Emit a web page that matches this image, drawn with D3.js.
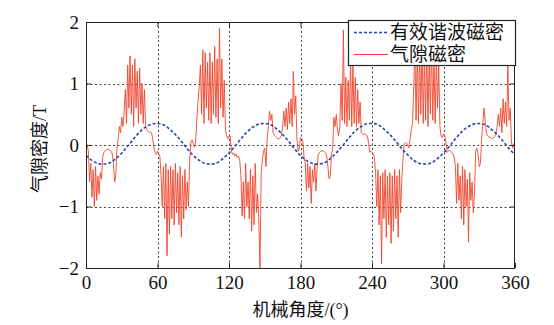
<!DOCTYPE html>
<html><head><meta charset="utf-8">
<script src="https://cdn.jsdelivr.net/npm/d3@7"></script>
<style>body{margin:0;background:#fff;} svg{display:block}</style>
</head><body><svg id="c" width="554" height="325"></svg>
<script>
const xTicks = [0, 60, 120, 180, 240, 300, 360];
const yTicks = [-2, -1, 0, 1, 2];
const legendLabels = ["有效谐波磁密", "气隙磁密"];
const xLabel = "机械角度/(°)";
const yLabel = "气隙密度/T";

// effective harmonic flux density, sampled every 5 degrees (0..360)
const blueStep = 5;
const blueValues = [
  -0.17,-0.25,-0.30,-0.31,-0.29,-0.22,-0.13,-0.02,0.10,0.21,0.29,0.34,0.35,0.33,0.26,0.17,0.06,-0.06,
  -0.17,-0.25,-0.30,-0.31,-0.29,-0.22,-0.13,-0.02,0.10,0.21,0.29,0.34,0.35,0.33,0.26,0.17,0.06,-0.06,
  -0.17,-0.25,-0.30,-0.31,-0.29,-0.22,-0.13,-0.02,0.10,0.21,0.29,0.34,0.35,0.33,0.26,0.17,0.06,-0.06,
  -0.16,-0.25,-0.30,-0.31,-0.29,-0.22,-0.13,-0.02,0.10,0.21,0.29,0.34,0.35,0.33,0.26,0.17,0.06,-0.06,
  -0.16
];

// air-gap flux density, sampled every 1 degree (0..360)
const redStep = 1;
const redValues = [
  0.05, 0.0, -0.1, -0.6, -0.3, -0.85, -0.4, -1.0, -0.35, -0.9,
  -0.5, -0.8, -0.45, -0.55, -0.2, -0.12, -0.1, -0.08, -0.07, -0.07,
  -0.08, -0.1, -0.14, -0.3, -0.6, -0.5, -0.05, 0.1, 0.3, 0.2,
  0.45, 0.3, 0.55, 0.9, 0.35, 1.3, 0.6, 1.45, 0.5, 1.3,
  0.3, 1.4, 0.6, 1.2, 0.35, 1.25, 0.5, 1.0, 0.35, 0.9,
  0.3, 0.25, 0.22, 0.2, 0.22, 0.2, 0.1, -0.05, -0.12, -0.15,
  -0.1, -0.15, -0.18, -0.5, -1.0, -0.35, -1.2, -0.3, -1.8, -0.4,
  -1.45, -0.35, -1.2, -0.4, -1.3, -0.3, -1.1, -0.45, -1.3, -0.35,
  -1.5, -0.5, -1.2, -0.4, -1.05, -0.6, -1.0, -0.25, 0.05, 0.08,
  0.03, -0.04, 0.05, 0.4, 0.7, 0.95, 1.3, 0.5, 1.55, 0.35,
  1.5, 0.6, 1.35, 0.4, 1.5, 0.35, 1.35, 0.5, 1.6, 0.45,
  1.4, 0.35, 1.9, 0.6, 1.4, 0.45, 1.05, 0.25, 0.15, 0.1,
  0.15, 0.15, -0.1, -0.15, -0.13, -0.18, -0.15, -0.2, -0.18, -0.25,
  -0.5, -1.15, -0.6, -1.2, -0.3, -1.0, -0.6, -1.2, -0.4, -1.4,
  -0.5, -1.3, -0.3, -1.1, -0.8, -1.2, -2.0, -0.45, -0.25, -0.1,
  -0.05, -0.35, 0.1, 0.3, 0.55, 0.4, 0.5, 0.2, 0.16, 0.14,
  0.12, 0.1, 0.1, 0.12, 0.15, 0.3, 0.55, 0.3, 0.6, 0.25,
  0.7, 0.35, 0.75, 0.3, 1.2, 0.5, 0.8, 0.1, -0.1, -0.05,
  0.12, 0.1, 0.05, -0.2, -0.3, -0.75, -0.3, -0.7, -0.35, -0.95,
  -0.4, -0.6, -0.3, -0.75, -0.35, -0.15, -0.12, -0.1, -0.09, -0.1,
  -0.11, -0.13, -0.18, -0.35, -0.55, -0.5, -0.15, -0.05, 0.45, 0.3,
  0.5, 0.25, 0.15, 0.3, 1.0, 0.4, 1.87, 0.35, 1.1, 0.3,
  1.05, 0.4, 1.4, 0.3, 1.35, 0.35, 1.1, 0.3, 0.9, 0.35,
  0.7, 0.2, 0.18, 0.17, 0.18, 0.17, 0.15, 0.05, -0.12, -0.1,
  -0.12, -0.15, -0.2, -0.45, -1.0, -0.4, -1.3, -0.5, -1.93, -0.45,
  -1.2, -0.4, -1.5, -0.5, -1.3, -0.45, -1.6, -0.5, -1.4, -0.4,
  -1.2, -0.5, -1.5, -0.4, -1.1, -0.55, -0.25, 0.02, 0.04, 0.03,
  0.0, -0.05, 0.1, 0.25, 0.35, 0.95, 1.5, 0.4, 1.6, 0.35,
  1.5, 0.5, 1.7, 0.35, 1.45, 0.4, 1.6, 0.3, 1.5, 0.5,
  1.7, 0.4, 1.4, 0.35, 1.5, 0.6, 1.3, 0.3, 0.15, 0.12,
  0.18, 0.15, 0.05, -0.12, -0.1, -0.08, -0.1, -0.12, -0.15, -0.2,
  -0.35, -0.95, -0.3, -0.9, -0.5, -1.2, -0.35, -1.3, -0.4, -1.0,
  -0.55, -1.58, -0.45, -0.9, -0.6, -1.1, -0.8, -0.1, -0.05, -0.15,
  -0.35, -0.3, 0.1, 0.35, 0.6, 0.4, 0.2, 0.15, 0.13, 0.12,
  0.12, 0.1, 0.12, 0.14, 0.18, 0.3, 0.5, 0.3, 0.6, 0.2,
  0.75, 0.35, 0.7, 0.3, 1.28, 0.4, 0.6, 0.05, -0.05, 0.02,
  0.0
];

const svg = d3.select("#c");
const L = 86, R = 515, T = 22, B = 268;
const x = d3.scaleLinear().domain([0, 360]).range([L, R]);
const y = d3.scaleLinear().domain([-2, 2]).range([B, T]);
const serif = "'Liberation Serif','Times New Roman',serif";
const cjk = "'Liberation Serif','Noto Sans CJK SC',serif";

svg.append("rect").attr("x", 0).attr("y", 0).attr("width", 554).attr("height", 325).attr("fill", "#fff");

// grid
const grid = svg.append("g").attr("stroke", "#444").attr("stroke-width", 1).attr("stroke-dasharray", "2,2.5");
grid.selectAll(".gx").data(xTicks.slice(1, -1)).join("line")
  .attr("x1", d => Math.round(x(d)) + 0.5).attr("x2", d => Math.round(x(d)) + 0.5)
  .attr("y1", T).attr("y2", B);
grid.selectAll(".gy").data(yTicks.slice(1, -1)).join("line")
  .attr("y1", d => Math.round(y(d)) + 0.5).attr("y2", d => Math.round(y(d)) + 0.5)
  .attr("x1", L).attr("x2", R);

// clip
svg.append("clipPath").attr("id", "clip").append("rect")
  .attr("x", L).attr("y", T).attr("width", R - L).attr("height", B - T);

const red = redValues.map((v, i) => [i * redStep, v]);
const blue = blueValues.map((v, i) => [i * blueStep, v]);

svg.append("path").datum(red)
  .attr("clip-path", "url(#clip)")
  .attr("fill", "none").attr("stroke", "#f0452c").attr("stroke-width", 0.9)
  .attr("d", d3.line().x(d => x(d[0])).y(d => y(d[1])));

svg.append("path").datum(blue)
  .attr("clip-path", "url(#clip)")
  .attr("fill", "none").attr("stroke", "#2c44a8").attr("stroke-width", 1.6)
  .attr("stroke-dasharray", "3,2")
  .attr("d", d3.line().curve(d3.curveCatmullRom).x(d => x(d[0])).y(d => y(d[1])));

// axes
const fmt = d3.format("d");
const gb = svg.append("g").attr("transform", `translate(0,${B})`)
  .call(d3.axisBottom(x).tickValues(xTicks).tickSizeInner(-5).tickSizeOuter(0).tickPadding(8).tickFormat(fmt));
const gt = svg.append("g").attr("transform", `translate(0,${T})`)
  .call(d3.axisTop(x).tickValues(xTicks).tickSizeInner(-5).tickSizeOuter(0).tickFormat(""));
const gl = svg.append("g").attr("transform", `translate(${L},0)`)
  .call(d3.axisLeft(y).tickValues(yTicks).tickSizeInner(-5).tickSizeOuter(0).tickPadding(7).tickFormat(fmt));
const gr = svg.append("g").attr("transform", `translate(${R},0)`)
  .call(d3.axisRight(y).tickValues(yTicks).tickSizeInner(-5).tickSizeOuter(0).tickFormat(""));
[gb, gt, gl, gr].forEach(g => {
  g.select(".domain").remove();
  g.selectAll("line").attr("stroke", "#222");
  g.selectAll("text").attr("font-family", serif).attr("font-size", 19).attr("fill", "#111");
});

svg.append("rect").attr("x", L + 0.5).attr("y", T + 0.5).attr("width", R - L - 1).attr("height", B - T)
  .attr("fill", "none").attr("stroke", "#222").attr("stroke-width", 1);

// legend
const lg = svg.append("g");
lg.append("rect").attr("x", 348.5).attr("y", 20.5).attr("width", 167).attr("height", 45)
  .attr("fill", "#fff").attr("stroke", "#222").attr("stroke-width", 1.2);
lg.append("line").attr("x1", 354).attr("x2", 388).attr("y1", 32.5).attr("y2", 32.5)
  .attr("stroke", "#2c44a8").attr("stroke-width", 1.6).attr("stroke-dasharray", "3,2");
lg.append("line").attr("x1", 354).attr("x2", 388).attr("y1", 54.5).attr("y2", 54.5)
  .attr("stroke", "#f0452c").attr("stroke-width", 1);
lg.selectAll("text").data(legendLabels).join("text")
  .attr("x", 390).attr("y", (d, i) => 32 + i * 22)
  .attr("dominant-baseline", "central")
  .attr("font-family", cjk).attr("font-size", 19).attr("fill", "#111")
  .text(d => d);

// axis labels
svg.append("text").attr("x", (L + R) / 2).attr("y", 316).attr("text-anchor", "middle")
  .attr("font-family", cjk).attr("font-size", 18).attr("fill", "#111").text(xLabel);
svg.append("text").attr("transform", `translate(40,${(T + B) / 2 + 4}) rotate(-90)`)
  .attr("text-anchor", "middle").attr("dominant-baseline", "central")
  .attr("font-family", cjk).attr("font-size", 18).attr("fill", "#111").text(yLabel);
</script></body></html>
